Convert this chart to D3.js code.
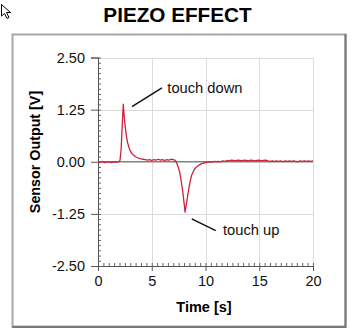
<!DOCTYPE html>
<html>
<head>
<meta charset="utf-8">
<script src="https://cdn.jsdelivr.net/npm/d3@7"></script>
<style>
  body { margin: 0; background: #fff; }
  text { font-family: "Liberation Sans", Arial, sans-serif; }
</style>
</head>
<body>
<script>
// Sensor output sampled over time (s, V)
const times = [
  0.0, 0.2, 0.4, 0.6, 0.8, 1.0, 1.2, 1.4, 1.6, 1.8, 2.0,
  2.05, 2.15, 2.25, 2.35, 2.45, 2.55, 2.65, 2.75, 2.9, 3.0, 3.15, 3.3, 3.5, 3.75,
  4.0, 4.2, 4.4, 4.6, 4.8, 5.0, 5.2, 5.4, 5.6, 5.8, 6.0, 6.2, 6.4, 6.6, 6.8, 7.0, 7.15,
  7.3, 7.45, 7.6, 7.75, 7.9, 8.0, 8.1, 8.25, 8.4, 8.5, 8.6, 8.7, 8.85, 9.0, 9.2, 9.4, 9.6, 9.8,
  10.0, 10.2, 10.4, 10.6, 10.8, 11.0, 11.2, 11.4, 11.6, 11.8, 12.0, 12.2, 12.4, 12.6, 12.8,
  13.0, 13.2, 13.4, 13.6, 13.8, 14.0, 14.2, 14.4, 14.6, 14.8, 15.0, 15.2, 15.4, 15.6, 15.8,
  16.0, 16.2, 16.4, 16.6, 16.8, 17.0, 17.2, 17.4, 17.6, 17.8, 18.0, 18.2, 18.4, 18.6, 18.8,
  19.0, 19.2, 19.4, 19.6, 19.8, 20.0
];
const volts = [
  0.00, -0.01, 0.01, -0.02, -0.01, 0.00, -0.02, -0.01, 0.00, -0.01, 0.01,
  0.04, 0.30, 0.85, 1.38, 1.05, 0.80, 0.60, 0.46, 0.33, 0.26, 0.20, 0.16, 0.12, 0.09,
  0.07, 0.06, 0.05, 0.04, 0.05, 0.03, 0.05, 0.04, 0.06, 0.04, 0.05, 0.03, 0.05, 0.04, 0.06, 0.05, 0.04,
  -0.02, -0.12, -0.25, -0.48, -0.75, -0.97, -1.21, -0.97, -0.72, -0.57, -0.44, -0.33, -0.24, -0.17, -0.12, -0.08, -0.05, -0.03,
  -0.02, -0.01, 0.00, -0.01, 0.01, 0.00, 0.01, 0.00, 0.02, 0.01, 0.03, 0.02, 0.04, 0.03, 0.02,
  0.04, 0.03, 0.02, 0.04, 0.03, 0.02, 0.04, 0.03, 0.02, 0.03, 0.04, 0.02, 0.03, 0.04, 0.02,
  0.01, 0.02, 0.01, 0.02, 0.01, 0.02, 0.00, 0.02, 0.01, 0.02, 0.01, 0.02, 0.01, 0.00, 0.02,
  0.01, 0.02, 0.01, 0.02, 0.01, 0.02
];

const xTicks = [0, 5, 10, 15, 20];
const yTicks = [-2.5, -1.25, 0, 1.25, 2.5];

// Annotation anchors in data units: line start, line end, label position
const notes = [
  { label: "touch down", from: [3.16, 1.32], to: [5.95, 1.77], at: [6.45, 1.66] },
  { label: "touch up", from: [8.72, -1.37], to: [10.95, -1.65], at: [11.63, -1.75] }
];

const width = 355;
const height = 335;

const svg = d3.select("body")
  .append("svg")
  .attr("width", width)
  .attr("height", height);

const x = d3.scaleLinear().domain([0, 20]).range([98, 313]);
const y = d3.scaleLinear().domain([-2.5, 2.5]).range([266, 57.5]);

// mouse pointer in the corner
svg.append("path")
  .attr("d", "M1.5,4.5 L1.5,16 L4.5,13.5 L7,18.5 L9,17.5 L6.5,12.5 L10.5,12.5 Z")
  .attr("fill", "#fff")
  .attr("stroke", "#000")
  .attr("stroke-width", 1);

// title
svg.append("text")
  .attr("x", 177.5)
  .attr("y", 21.5)
  .attr("text-anchor", "middle")
  .attr("font-size", 20.7)
  .attr("font-weight", "bold")
  .text("PIEZO EFFECT");

// panel frame
svg.append("rect")
  .attr("x", 12.5).attr("y", 34.5)
  .attr("width", 333).attr("height", 292)
  .attr("fill", "none")
  .attr("stroke", "#a8a8a8")
  .attr("stroke-width", 2);
svg.append("path")
  .attr("d", "M345.5,34 L345.5,327 L12,327")
  .attr("fill", "none")
  .attr("stroke", "#777")
  .attr("stroke-width", 2);

// grid
const grid = svg.append("g").attr("stroke", "#dcdcdc").attr("stroke-width", 1);
grid.selectAll(".vx")
  .data(xTicks.filter(d => d > 0))
  .enter().append("line")
  .attr("x1", d => Math.round(x(d)) + 0.5).attr("x2", d => Math.round(x(d)) + 0.5)
  .attr("y1", y(2.5)).attr("y2", y(-2.5));
grid.selectAll(".hy")
  .data(yTicks.filter(d => d !== 0 && d !== -2.5))
  .enter().append("line")
  .attr("x1", x(0)).attr("x2", x(20))
  .attr("y1", d => Math.round(y(d)) + 0.5).attr("y2", d => Math.round(y(d)) + 0.5);

// zero line
svg.append("line")
  .attr("x1", x(0)).attr("x2", x(20))
  .attr("y1", y(0)).attr("y2", y(0))
  .attr("stroke", "#808080")
  .attr("stroke-width", 1.3);

// minor ticks
const yMinor = svg.append("g")
  .attr("transform", `translate(${x(0)},0)`)
  .call(d3.axisRight(y).tickValues(d3.range(-2.5, 2.5001, 0.125)).tickSize(3).tickFormat(""));
const xMinor = svg.append("g")
  .attr("transform", `translate(0,${y(-2.5)})`)
  .call(d3.axisTop(x).tickValues(d3.range(0, 20.001, 0.5)).tickSize(3).tickFormat(""));
[yMinor, xMinor].forEach(g => {
  g.select(".domain").remove();
  g.selectAll("line").attr("stroke", "#666");
});

// main axes
const yAxis = svg.append("g")
  .attr("transform", `translate(${x(0)},0)`)
  .call(d3.axisLeft(y).tickValues(yTicks).tickSize(7).tickPadding(6).tickFormat(d => d.toFixed(2)));
const xAxis = svg.append("g")
  .attr("transform", `translate(0,${y(-2.5)})`)
  .call(d3.axisBottom(x).tickValues(xTicks).tickSize(5).tickPadding(5));
[yAxis, xAxis].forEach(g => {
  g.select(".domain").attr("stroke", "#555");
  g.selectAll("line").attr("stroke", "#555");
  g.selectAll("text")
    .attr("font-size", 14.5)
    .attr("font-family", "Liberation Sans, Arial, sans-serif")
    .attr("fill", "#111");
});

// axis titles
svg.append("text")
  .attr("x", 204)
  .attr("y", 311.5)
  .attr("text-anchor", "middle")
  .attr("font-size", 14.5)
  .attr("font-weight", "bold")
  .text("Time [s]");
svg.append("text")
  .attr("transform", "translate(39.5,152) rotate(-90)")
  .attr("text-anchor", "middle")
  .attr("font-size", 14.3)
  .attr("font-weight", "bold")
  .text("Sensor Output [V]");

// signal trace
const line = d3.line()
  .x((d, i) => x(times[i]))
  .y(d => y(d));
svg.append("path")
  .datum(volts)
  .attr("d", line)
  .attr("fill", "none")
  .attr("stroke", "#d0203a")
  .attr("stroke-width", 1.3)
  .attr("stroke-linejoin", "round");

// annotations
notes.forEach(n => {
  svg.append("line")
    .attr("x1", x(n.from[0])).attr("y1", y(n.from[1]))
    .attr("x2", x(n.to[0])).attr("y2", y(n.to[1]))
    .attr("stroke", "#111")
    .attr("stroke-width", 1.5);
  svg.append("text")
    .attr("x", x(n.at[0]))
    .attr("y", y(n.at[1]))
    .attr("font-size", 14.7)
    .attr("fill", "#111")
    .text(n.label);
});
</script>
</body>
</html>
